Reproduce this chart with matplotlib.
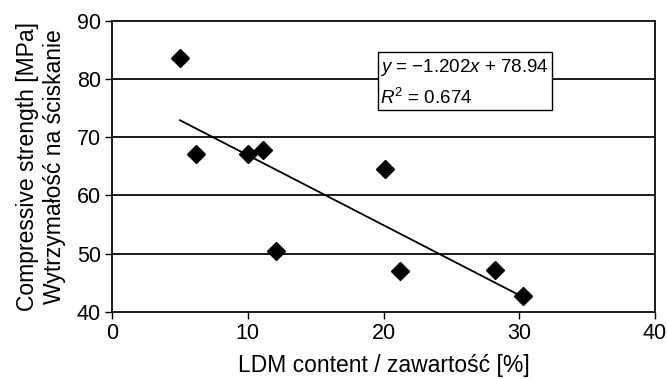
import matplotlib
matplotlib.use("Agg")
import matplotlib.pyplot as plt
import numpy as np

plt.rcParams["font.family"] = ["Liberation Sans", "DejaVu Sans"]
plt.rcParams["mathtext.fontset"] = "custom"
plt.rcParams["mathtext.it"] = "Liberation Sans:italic"
plt.rcParams["mathtext.rm"] = "Liberation Sans"

# data
ldm = [5.0, 6.2, 10.0, 11.1, 12.1, 20.1, 21.2, 28.2, 30.3]
strength = [83.6, 67.1, 67.1, 67.8, 50.5, 64.5, 47.1, 47.2, 42.7]
slope = -1.202
intercept = 78.94
r2 = 0.674
fit_x = [5.0, 30.0]

xticks = [0, 10, 20, 30, 40]
yticks = [40, 50, 60, 70, 80, 90]

fig = plt.figure(figsize=(6.67, 3.79), dpi=100)
ax = fig.add_axes([0.168, 0.177, 0.814, 0.768])

for yv in yticks[1:-1]:
    ax.axhline(yv, color="#1a1a1a", lw=1.4, zorder=1)

fit_y = [slope * v + intercept for v in fit_x]
ax.plot(fit_x, fit_y, color="black", lw=1.3, zorder=2)
ax.plot(ldm, strength, linestyle="none", marker="D", ms=9, color="black", zorder=3)

ax.set_xlim(0, 40)
ax.set_ylim(40, 90)
ax.set_xticks(xticks)
ax.set_yticks(yticks)
ax.tick_params(labelsize=15.5, length=5, width=1, direction="out", colors="black", pad=3)
for s in ax.spines.values():
    s.set_color("#1a1a1a")
    s.set_linewidth(1.4)

ax.set_xlabel("LDM content / zawartość [%]", fontsize=16.5, labelpad=7)
ax.set_ylabel("Compressive strength [MPa]\nWytrzymałość na ściskanie", fontsize=16.5,
              labelpad=8, linespacing=1.22)

txt = "$y$ = \u22121.202$x$ + 78.94\n$R^2$ = 0.674"
ax.text(0.494, 0.876, txt, transform=ax.transAxes, fontsize=13.5, va="top", ha="left",
        linespacing=1.6,
        bbox=dict(boxstyle="square,pad=0.14", fc="white", ec="black", lw=1), zorder=4)

fig.savefig("out.png", dpi=100)
plt.close()
